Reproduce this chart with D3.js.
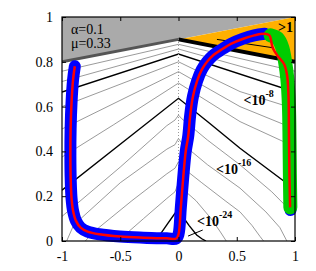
<!DOCTYPE html>
<html>
<head>
<meta charset="utf-8">
<script src="https://cdn.jsdelivr.net/npm/d3@7"></script>
<style>
body { margin: 0; background: #fff; }
text { font-family: "Liberation Serif", "DejaVu Serif", serif; }
</style>
</head>
<body>
<div id="chart"></div>
<script>
// tick values and labels
var xTicks = [-1, -0.5, 0, 0.5, 1];
var xTickLabels = ["-1", "-0.5", "0", "0.5", "1"];
var yTicks = [0, 0.2, 0.4, 0.6, 0.8, 1];
var yTickLabels = ["0", "0.2", "0.4", "0.6", "0.8", "1"];

// shaded regions
var grayRegion = [[-1, 0.8], [-1, 1], [1, 1]];
var orangeRegion = [[0, 0.9], [1, 1], [1, 0.8]];
var grayEdge = [[-1, 0.8], [0, 0.9]];
var unitLevel = [[0, 0.9], [1, 0.8]];
var orangeLine = [[0.33, 0.9], [0.82, 0.862]];

// thin contour lines
var thinContours = [
  [[-1, 0.758], [0, 0.878], [1, 0.758]],
  [[-1, 0.712], [0, 0.857], [1, 0.712]],
  [[-1, 0.6], [0, 0.8], [0.528, 0.667], [1, 0.59]],
  [[-1, 0.5], [0, 0.756], [0.528, 0.6], [1, 0.5]],
  [[-1, 0.375], [-0.56, 0.518], [0, 0.705], [0.528, 0.533], [1, 0.42]],
  [[-1, 0.11], [-0.5, 0.33], [-0.1, 0.515], [-0.03, 0.54], [0, 0.562], [0.03, 0.545], [0.25, 0.45], [0.528, 0.34], [0.8, 0.22], [1, 0.115]],
  [[-0.96, 0], [-0.9, 0.071], [-0.5, 0.26], [-0.1, 0.41], [-0.03, 0.43], [0, 0.458], [0.03, 0.435], [0.25, 0.34], [0.528, 0.236], [0.75, 0.13], [0.87, 0.06], [0.93, 0]],
  [[-0.8, 0], [-0.73, 0.04], [-0.4, 0.18], [-0.1, 0.3], [-0.03, 0.325], [0, 0.354], [0.03, 0.33], [0.2, 0.26], [0.4, 0.18], [0.528, 0.13], [0.63, 0.07], [0.7, 0.02], [0.73, 0]],
  [[-0.52, 0], [-0.3, 0.1], [-0.1, 0.19], [-0.03, 0.22], [0, 0.26], [0.03, 0.235], [0.15, 0.18], [0.28, 0.1], [0.36, 0.04], [0.41, 0]]
];

// labelled contour lines (1e-8, 1e-16, 1e-24)
var blackContours = [
  [[-1, 0.665], [0, 0.835], [1, 0.665]],
  [[-1, 0.227], [0, 0.637], [0.256, 0.53], [0.528, 0.414], [0.929, 0.258], [1, 0.228]],
  [[-0.2, 0], [-0.16, 0.027], [-0.09, 0.08], [-0.03, 0.124], [0, 0.14], [0.027, 0.116], [0.09, 0.07], [0.156, 0.027], [0.2, 0.01], [0.236, 0]]
];

// trajectories
var blueTrack = [
  [-0.89, 0.78], [-0.905, 0.72], [-0.918, 0.62], [-0.926, 0.5], [-0.928, 0.38], [-0.925, 0.27],
  [-0.918, 0.19], [-0.905, 0.135], [-0.88, 0.09], [-0.84, 0.06], [-0.78, 0.042], [-0.68, 0.03],
  [-0.5, 0.02], [-0.3, 0.015], [-0.1, 0.012], [-0.02, 0.011],
  [0.0, 0.03], [0.02, 0.15], [0.04, 0.28], [0.062, 0.4], [0.084, 0.47], [0.1, 0.56],
  [0.124, 0.645], [0.16, 0.715], [0.2, 0.765], [0.245, 0.8], [0.3, 0.83], [0.38, 0.858],
  [0.45, 0.88], [0.55, 0.902], [0.65, 0.918], [0.74, 0.925]
];
var greenTrack = [
  [0.79, 0.918], [0.85, 0.905], [0.89, 0.865], [0.915, 0.8], [0.935, 0.72], [0.948, 0.6],
  [0.953, 0.45], [0.956, 0.3], [0.96, 0.15]
];
var blueTail = [[0.953, 0.45], [0.956, 0.3], [0.962, 0.138]];
var redTail = [
  [0.78, 0.918], [0.81, 0.86], [0.86, 0.82], [0.906, 0.79], [0.932, 0.74], [0.944, 0.65],
  [0.948, 0.48], [0.952, 0.3], [0.958, 0.15]
];

// annotations (data coords)
var paramText = [["α=0.1", -0.923, 0.926], ["μ=0.33", -0.923, 0.862]];
var levelText = [["-8", 0.558, 0.607], ["-16", 0.322, 0.301], ["-24", 0.159, 0.065]];
var pointer24 = [[0.082, 0.022], [0.208, 0.049]];

var svgWidth = 316;
var svgHeight = 271;
var margin = {top: 17, right: 21, bottom: 30, left: 62};
var width = svgWidth - margin.left - margin.right;
var height = svgHeight - margin.top - margin.bottom;

var svg = d3.select("#chart").append("svg")
  .attr("width", svgWidth)
  .attr("height", svgHeight);

var chartGroup = svg.append("g")
  .attr("transform", `translate(${margin.left}, ${margin.top})`);

var x = d3.scaleLinear().domain([-1, 1]).range([0, width]);
var y = d3.scaleLinear().domain([0, 1]).range([height, 0]);

svg.append("defs").append("clipPath").attr("id", "plotclip")
  .append("rect").attr("width", width).attr("height", height);

var plot = chartGroup.append("g").attr("clip-path", "url(#plotclip)");
var tracks = chartGroup.append("g");

var line = d3.line().x(d => x(d[0])).y(d => y(d[1]));
var smooth = d3.line().x(d => x(d[0])).y(d => y(d[1])).curve(d3.curveCatmullRom.alpha(0.5));

plot.append("path").attr("d", line(grayRegion) + "Z").attr("fill", "#aaaaaa");
plot.append("path").attr("d", line(orangeRegion) + "Z").attr("fill", "#ffb000");

// contours
plot.selectAll(".thin").data(thinContours).enter().append("path")
  .attr("d", line).attr("fill", "none").attr("stroke", "#808080").attr("stroke-width", 0.8);
plot.selectAll(".blk").data(blackContours).enter().append("path")
  .attr("d", line).attr("fill", "none").attr("stroke", "#000").attr("stroke-width", 1.4);

plot.append("path").attr("d", line(orangeLine)).attr("stroke", "#000").attr("stroke-width", 1);
plot.append("path").attr("d", line(grayEdge)).attr("stroke", "#555").attr("stroke-width", 3);
plot.append("path").attr("d", line(unitLevel)).attr("stroke", "#000").attr("stroke-width", 4);

// dotted line at x = 0
plot.append("path").attr("d", line([[0, 0], [0, 0.9]]))
  .attr("stroke", "#999").attr("stroke-width", 1).attr("stroke-dasharray", "1,2");

// trajectories (not clipped, markers spill over the frame)
var wide = function(pts, colour, w) {
  tracks.append("path").attr("d", smooth(pts))
    .attr("fill", "none").attr("stroke", colour).attr("stroke-width", w)
    .attr("stroke-linecap", "round").attr("stroke-linejoin", "round");
};
wide(blueTrack, "#0000ff", 12);
wide(blueTail, "#0000ff", 12);
wide(greenTrack, "#00cc00", 14);
tracks.append("path").attr("d", smooth(blueTrack.concat(redTail)))
  .attr("fill", "none").attr("stroke", "#ff0000").attr("stroke-width", 2.5)
  .attr("stroke-linejoin", "round");

// labels
chartGroup.selectAll(".param").data(paramText).enter().append("text")
  .attr("x", d => x(d[1])).attr("y", d => y(d[2]))
  .style("font-size", "14px").text(d => d[0]);

chartGroup.append("text")
  .attr("x", x(0.983)).attr("y", y(0.935))
  .attr("text-anchor", "end")
  .style("font-size", "14px").style("font-weight", "bold").text(">1");

var lt = chartGroup.selectAll(".lvl").data(levelText).enter().append("text")
  .attr("x", d => x(d[1])).attr("y", d => y(d[2]))
  .style("font-size", "14px").style("font-weight", "bold");
lt.append("tspan").text("<10");
lt.append("tspan").attr("dy", -8).style("font-size", "10px").text(d => d[0]);

chartGroup.append("path").attr("d", line(pointer24)).attr("stroke", "#000").attr("stroke-width", 1);

// axes: inward ticks on all four sides
chartGroup.append("g")
  .attr("transform", `translate(0, ${height})`)
  .call(d3.axisBottom(x).tickValues(xTicks).tickSize(-4).tickPadding(10)
    .tickFormat((d, i) => xTickLabels[i]));
chartGroup.append("g")
  .call(d3.axisLeft(y).tickValues(yTicks).tickSize(-4).tickPadding(9)
    .tickFormat((d, i) => yTickLabels[i]));
chartGroup.append("g")
  .call(d3.axisTop(x).tickValues(xTicks).tickSize(-4).tickFormat(""));
chartGroup.append("g")
  .attr("transform", `translate(${width}, 0)`)
  .call(d3.axisRight(y).tickValues(yTicks).tickSize(-4).tickFormat(""));

chartGroup.selectAll(".domain").remove();
chartGroup.selectAll(".tick line").attr("stroke", "#000");
chartGroup.selectAll(".tick text")
  .style("font-family", "'Liberation Serif', serif").style("font-size", "14px").attr("fill", "#000");

chartGroup.append("rect")
  .attr("width", width).attr("height", height)
  .attr("fill", "none").attr("stroke", "#000").attr("stroke-width", 1.2);
</script>
</body>
</html>
